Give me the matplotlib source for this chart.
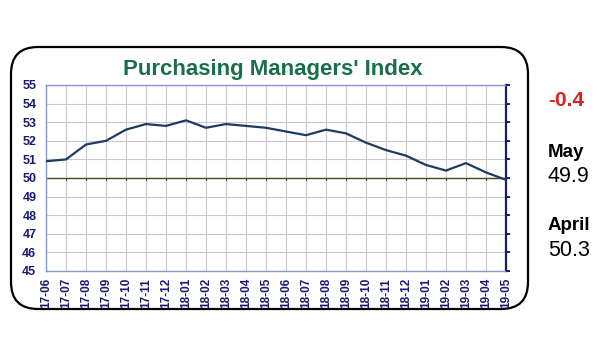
import matplotlib.pyplot as plt
from matplotlib.patches import FancyBboxPatch

plt.rcParams['font.family'] = ['Liberation Sans', 'DejaVu Sans']

months = ['17-06', '17-07', '17-08', '17-09', '17-10', '17-11', '17-12',
          '18-01', '18-02', '18-03', '18-04', '18-05', '18-06', '18-07',
          '18-08', '18-09', '18-10', '18-11', '18-12', '19-01', '19-02',
          '19-03', '19-04', '19-05']
pmi = [50.9, 51.0, 51.8, 52.0, 52.6, 52.9, 52.8, 53.1, 52.7, 52.9, 52.8,
       52.7, 52.5, 52.3, 52.6, 52.4, 51.9, 51.5, 51.2, 50.7, 50.4, 50.8,
       50.3, 49.9]
change_label = '-0.4'
side_labels = [('May', '49.9'), ('April', '50.3')]

navy = '#1a1a6e'
fig = plt.figure(figsize=(6, 3.6), dpi=100)

# rounded frame around the chart
box = FancyBboxPatch((11 / 600, 1 - 309 / 360), 517 / 600, 262 / 360,
                     boxstyle='round,pad=0,rounding_size=0.045',
                     transform=fig.transFigure, facecolor='white',
                     edgecolor='black', linewidth=1.6, mutation_aspect=600 / 360,
                     zorder=-5)
fig.patches.append(box)

ax = fig.add_axes([46 / 600, 1 - 271 / 360, 460 / 600, 186 / 360])
ax.patch.set_alpha(0)
x = range(len(months))
ax.plot(x, pmi, color='#1f3a5f', linewidth=1.6, zorder=3)
ax.axhline(50, color='#4a4a20', linewidth=1.0, zorder=2)
# small tick marks hanging off the 50 line
for i in x:
    ax.plot([i, i], [50, 49.88], color='#4a4a20', linewidth=0.8, zorder=2)

ax.set_xlim(0, len(months) - 1)
ax.set_ylim(45, 55)
ax.set_yticks(range(45, 56))
ax.set_xticks(list(x))
ax.set_xticklabels(months, rotation=90, fontsize=8.5, fontweight='bold', color=navy)
ax.tick_params(axis='y', labelsize=9, length=0, pad=7, labelcolor=navy)
for lab in ax.get_yticklabels():
    lab.set_fontweight('bold')
ax.tick_params(axis='x', length=0, pad=5)
ax.grid(True, color='#c8c8d0', linewidth=0.8)
ax.set_axisbelow(True)
for side in ['left', 'bottom', 'top']:
    ax.spines[side].set_color('#8c96c8')
    ax.spines[side].set_linewidth(1.0)
ax.spines['right'].set_color(navy)
ax.spines['right'].set_linewidth(1.6)

rax = ax.twinx()
rax.set_ylim(45, 55)
rax.set_yticks(range(45, 56))
rax.tick_params(axis='y', direction='out', length=3, width=1.4, color=navy, labelright=False)
for s in rax.spines.values():
    s.set_visible(False)

fig.text(273 / 600, 1 - 70 / 360, "Purchasing Managers' Index", ha='center', va='center',
         fontsize=16, fontweight='bold', color='#1a6e4a')

fig.text(548 / 600, 1 - 101 / 360, change_label, fontsize=15, fontweight='bold',
         color='#e0201e', va='center')
y0 = 152
for name, val in side_labels:
    fig.text(548 / 600, 1 - y0 / 360, name, fontsize=13.5, fontweight='bold', va='center')
    fig.text(548 / 600, 1 - (y0 + 25) / 360, val, fontsize=15.5, va='center')
    y0 += 74

fig.savefig('out.png', dpi=100)
